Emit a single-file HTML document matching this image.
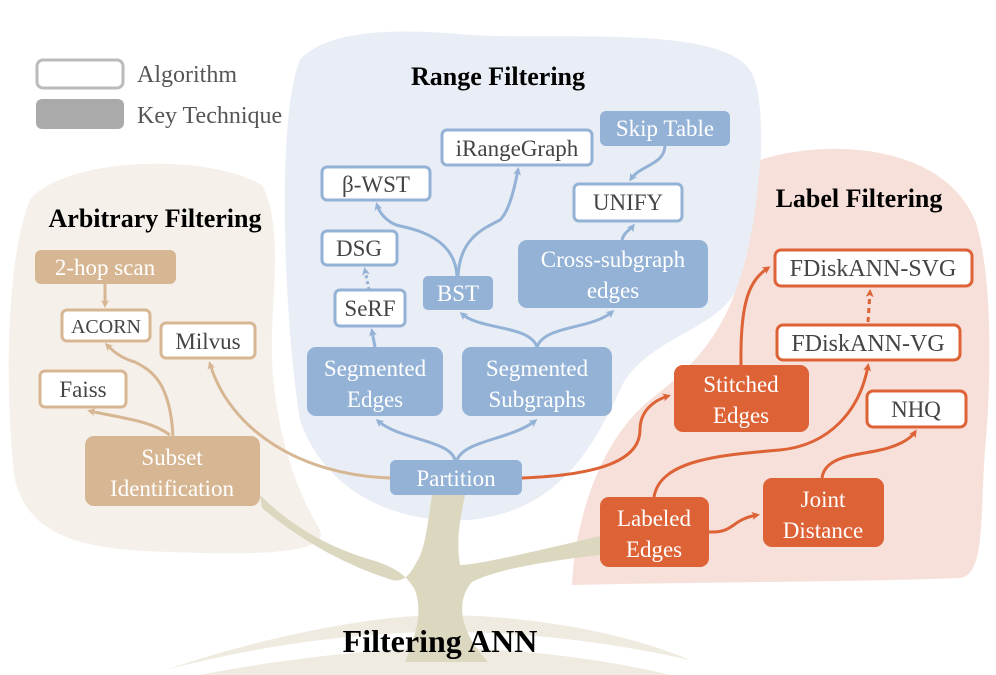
<!DOCTYPE html>
<html><head><meta charset="utf-8"><style>
html,body{margin:0;padding:0;background:#fff;}
svg{display:block;}
text{font-family:"Liberation Serif",serif;}
</style></head><body>
<svg width="996" height="675" viewBox="0 0 996 675" xmlns="http://www.w3.org/2000/svg">
<defs>
<marker id="at" markerWidth="8" markerHeight="8" refX="5" refY="4" orient="auto" markerUnits="userSpaceOnUse"><path d="M0,0 L8,4 L0,8 L2,4z" fill="#d7b793"/></marker>
<marker id="ab" markerWidth="8" markerHeight="8" refX="5" refY="4" orient="auto" markerUnits="userSpaceOnUse"><path d="M0,0 L8,4 L0,8 L2,4z" fill="#93b2d6"/></marker>
<marker id="ao" markerWidth="8" markerHeight="8" refX="5" refY="4" orient="auto" markerUnits="userSpaceOnUse"><path d="M0,0 L8,4 L0,8 L2,4z" fill="#dd6236"/></marker>
</defs>
<path d="M30,200 C60,160 200,150 262,185 C285,230 270,300 272,360 C275,420 290,480 320,530 C330,555 250,555 170,552 C90,550 30,540 15,480 C5,400 5,260 30,200Z" fill="#f5f0ea"/>
<path d="M300,60 C330,25 420,30 470,35 C560,40 720,25 750,70 C770,100 760,220 745,270 C730,330 660,330 625,380 C600,430 570,510 470,520 C380,525 320,480 300,420 C285,330 275,120 300,60Z" fill="#e9eef6"/>
<path d="M760,160 C820,140 940,140 975,220 C995,280 990,400 985,450 C980,520 985,575 960,578 C850,582 700,582 572,585 C575,520 600,440 650,400 C700,360 750,320 760,160Z" fill="#f7e0d9"/>
<path d="M165,670 C300,625 400,615 440,615 C520,615 620,630 690,660 C600,640 520,632 440,632 C360,632 260,645 165,670Z" fill="#f0ebe0"/>
<path d="M200,675 C300,655 400,648 440,648 C520,648 610,660 670,675Z" fill="#f0ebe0"/>
<path d="M405,662 C418,630 422,610 415,590 C405,572 390,565 365,558 C325,545 290,525 260,495 L262,508 C300,540 345,565 392,580 C408,584 414,565 418,560 C426,545 428,520 432,495 L465,495 C460,520 456,540 460,565 C475,565 520,555 600,536 L600,555 C540,562 495,570 472,582 C456,600 458,630 488,662Z" fill="#dcd8c0"/>
<rect x="37" y="60" width="86" height="28" rx="6" fill="#fff" stroke="#bbb" stroke-width="3"/>
<rect x="36" y="99" width="88" height="30" rx="6" fill="#aaa"/>
<text x="137" y="82" font-size="24" fill="#555">Algorithm</text>
<text x="137" y="123" font-size="24" fill="#555">Key Technique</text>
<text x="498" y="85" font-size="26" font-weight="bold" text-anchor="middle">Range Filtering</text>
<text x="155" y="227" font-size="26" font-weight="bold" text-anchor="middle">Arbitrary Filtering</text>
<text x="859" y="207" font-size="26" font-weight="bold" text-anchor="middle">Label Filtering</text>
<text x="440" y="652" font-size="32" font-weight="bold" text-anchor="middle">Filtering ANN</text>
<g fill="none" stroke="#d7b793" stroke-width="3">
<path d="M105,284 L105,305" marker-end="url(#at)"/>
<path d="M173,436 C170,380 150,370 135,362 C120,358 112,350 107,345" marker-end="url(#at)"/>
<path d="M170,435 C150,420 120,418 90,411" marker-end="url(#at)"/>
<path d="M390,478 C300,475 230,430 210,364" marker-end="url(#at)"/>
</g>
<g fill="none" stroke="#93b2d6" stroke-width="3">
<path d="M455,460 C450,440 400,440 378,421" marker-end="url(#ab)"/>
<path d="M457,460 C465,440 510,440 535,421" marker-end="url(#ab)"/>
<path d="M375,347 L372,331" marker-end="url(#ab)"/>
<path d="M369,290 L365,270" stroke-dasharray="3,3" marker-end="url(#ab)"/>
<path d="M537,347 C530,325 480,330 462,314" marker-end="url(#ab)"/>
<path d="M537,347 C545,325 590,330 612,312" marker-end="url(#ab)"/>
<path d="M457,276 C455,240 420,230 400,226 C390,224 380,215 377,205" marker-end="url(#ab)"/>
<path d="M458,276 C460,240 480,230 500,220 C510,210 515,185 518,170" marker-end="url(#ab)"/>
<path d="M622,240 C624,232 630,230 633,226" marker-end="url(#ab)"/>
<path d="M665,145 C665,165 640,165 631,179" marker-end="url(#ab)"/>
</g>
<g fill="none" stroke="#dd6236" stroke-width="3">
<path d="M522,478 C600,475 640,460 640,430 C640,410 655,400 668,396" marker-end="url(#ao)"/>
<path d="M741,365 C740,300 750,280 768,268" marker-end="url(#ao)"/>
<path d="M868,322 L870,292" stroke-dasharray="5,4" marker-end="url(#ao)"/>
<path d="M654,497 C660,460 720,455 780,450 C830,445 860,410 868,366" marker-end="url(#ao)"/>
<path d="M709,532 C735,533 730,520 757,515" marker-end="url(#ao)"/>
<path d="M822,478 C825,455 860,455 880,450 C895,447 910,440 915,432" marker-end="url(#ao)"/>
</g>
<g font-size="23" text-anchor="middle">
<rect x="35" y="250" width="141" height="34" rx="6" fill="#d7b793"/><text x="105" y="275" fill="#fff">2-hop scan</text>
<rect x="62" y="310" width="88" height="31" rx="5" fill="#fff" stroke="#d7b793" stroke-width="3"/><text x="106" y="333" fill="#444" font-size="20">ACORN</text>
<rect x="161" y="323" width="94" height="35" rx="5" fill="#fff" stroke="#d7b793" stroke-width="3"/><text x="208" y="349" fill="#444">Milvus</text>
<rect x="40" y="371" width="86" height="36" rx="5" fill="#fff" stroke="#d7b793" stroke-width="3"/><text x="83" y="397" fill="#444">Faiss</text>
<rect x="85" y="436" width="175" height="70" rx="9" fill="#d7b793"/><text x="172" y="465" fill="#fff">Subset</text><text x="172" y="496" fill="#fff">Identification</text>
<rect x="322" y="167" width="108" height="33" rx="5" fill="#fff" stroke="#93b2d6" stroke-width="3"/><text x="376" y="192" fill="#444">β-WST</text>
<rect x="322" y="231" width="75" height="34" rx="5" fill="#fff" stroke="#93b2d6" stroke-width="3"/><text x="359" y="256" fill="#444">DSG</text>
<rect x="335" y="290" width="70" height="36" rx="5" fill="#fff" stroke="#93b2d6" stroke-width="3"/><text x="370" y="316" fill="#444">SeRF</text>
<rect x="442" y="130" width="150" height="35" rx="5" fill="#fff" stroke="#93b2d6" stroke-width="3"/><text x="517" y="156" fill="#444">iRangeGraph</text>
<rect x="600" y="111" width="130" height="35" rx="6" fill="#93b2d6"/><text x="665" y="136" fill="#fff">Skip Table</text>
<rect x="574" y="184" width="108" height="37" rx="5" fill="#fff" stroke="#93b2d6" stroke-width="3"/><text x="628" y="210" fill="#444">UNIFY</text>
<rect x="518" y="240" width="190" height="68" rx="9" fill="#93b2d6"/><text x="613" y="267" fill="#fff">Cross-subgraph</text><text x="613" y="298" fill="#fff">edges</text>
<rect x="423" y="276" width="70" height="34" rx="5" fill="#93b2d6"/><text x="458" y="301" fill="#fff">BST</text>
<rect x="307" y="347" width="136" height="69" rx="9" fill="#93b2d6"/><text x="375" y="376" fill="#fff">Segmented</text><text x="375" y="407" fill="#fff">Edges</text>
<rect x="462" y="347" width="150" height="69" rx="9" fill="#93b2d6"/><text x="537" y="376" fill="#fff">Segmented</text><text x="537" y="407" fill="#fff">Subgraphs</text>
<rect x="390" y="460" width="132" height="35" rx="6" fill="#93b2d6"/><text x="456" y="486" fill="#fff">Partition</text>
<rect x="775" y="250" width="197" height="36" rx="6" fill="#fff" stroke="#dd6236" stroke-width="3"/><text x="873" y="276" fill="#444" font-size="24">FDiskANN-SVG</text>
<rect x="777" y="325" width="183" height="35" rx="6" fill="#fff" stroke="#dd6236" stroke-width="3"/><text x="868" y="351" fill="#444" font-size="24">FDiskANN-VG</text>
<rect x="867" y="391" width="99" height="36" rx="6" fill="#fff" stroke="#dd6236" stroke-width="3"/><text x="916" y="417" fill="#444">NHQ</text>
<rect x="674" y="365" width="135" height="67" rx="9" fill="#dd6236"/><text x="741" y="392" fill="#fff">Stitched</text><text x="741" y="423" fill="#fff">Edges</text>
<rect x="600" y="497" width="109" height="70" rx="9" fill="#dd6236"/><text x="654" y="526" fill="#fff">Labeled</text><text x="654" y="557" fill="#fff">Edges</text>
<rect x="763" y="478" width="121" height="69" rx="9" fill="#dd6236"/><text x="823" y="507" fill="#fff">Joint</text><text x="823" y="538" fill="#fff">Distance</text>
</g>
</svg>
</body></html>
